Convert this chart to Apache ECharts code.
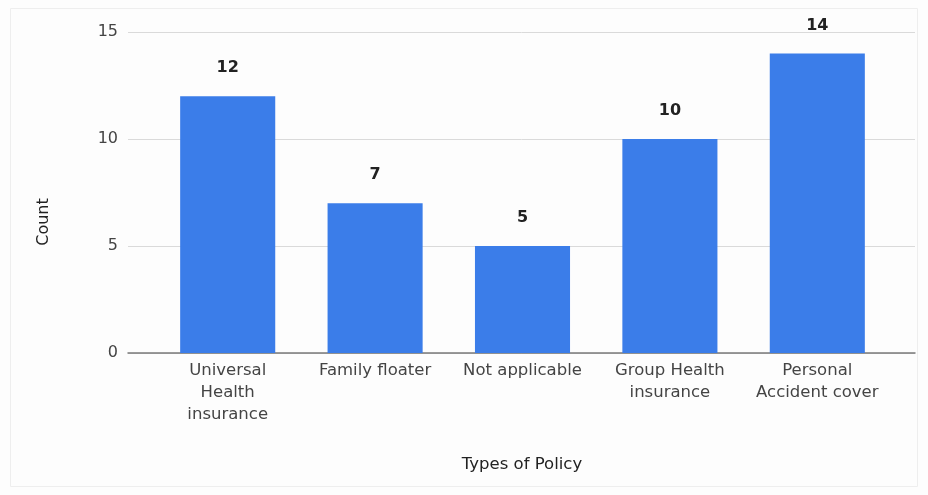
<!DOCTYPE html>
<html><head><meta charset="utf-8">
<script src="https://cdn.jsdelivr.net/npm/echarts@6/dist/echarts.min.js"></script>
<style>html,body{margin:0;padding:0;background:#fdfdfd}#c{width:928px;height:495px}</style>
</head><body><div id="c"></div>
<script>
const categories = ["Universal\nHealth\ninsurance", "Family floater", "Not applicable", "Group Health\ninsurance", "Personal\nAccident cover"];
const counts = [12, 7, 5, 10, 14];
const yTicks = [0, 5, 10, 15];
const xTitle = "Types of Policy";
const yTitle = "Count";

const chart = echarts.init(document.getElementById('c'), null, {renderer: 'canvas'});
const font = '"DejaVu Sans", Verdana, sans-serif';
chart.setOption({
  backgroundColor: '#fdfdfd',
  animation: false,
  grid: [
    {left: 128, right: 13, top: 32, bottom: 142},
    {left: 154, right: 37, top: 32, bottom: 142}
  ],
  xAxis: [
    {gridIndex: 0, type: 'category', data: [''], axisLine: {show: true, lineStyle: {color: '#7a7a7a', width: 1.5}},
     axisTick: {show: false}, axisLabel: {show: false}, splitLine: {show: false}},
    {gridIndex: 1, type: 'category', data: categories, axisLine: {show: false}, axisTick: {show: false},
     axisLabel: {color: '#444', fontFamily: font, fontSize: 16.5, lineHeight: 22, margin: 7, interval: 0}}
  ],
  yAxis: [
    {gridIndex: 0, type: 'value', min: yTicks[0], max: yTicks[yTicks.length-1], interval: 5,
     axisLine: {show: false}, axisTick: {show: false},
     axisLabel: {color: '#444', fontFamily: font, fontSize: 16, margin: 10},
     splitLine: {lineStyle: {color: '#dadada', width: 1}}},
    {gridIndex: 1, type: 'value', min: yTicks[0], max: yTicks[yTicks.length-1], interval: 5, show: false}
  ],
  series: [{
    type: 'bar', xAxisIndex: 1, yAxisIndex: 1, data: counts, barWidth: '64.5%',
    itemStyle: {color: '#3b7de9'},
    label: {show: true, position: 'top', distance: 20, color: '#222', fontFamily: font, fontSize: 16, fontWeight: 'bold'}
  }],
  graphic: [
    {type: 'rect', shape: {x: 10.5, y: 8.5, width: 907, height: 478}, style: {fill: 'none', stroke: '#eeeeee', lineWidth: 1}, z: -1},
    {type: 'text', x: 522, y: 465, style: {text: xTitle, font: '16.5px ' + font, fill: '#222', textAlign: 'center', textVerticalAlign: 'middle'}},
    {type: 'text', x: 44, y: 222, rotation: Math.PI/2, style: {text: yTitle, font: '16px ' + font, fill: '#222', textAlign: 'center', textVerticalAlign: 'middle'}}
  ]
});
</script></body></html>
